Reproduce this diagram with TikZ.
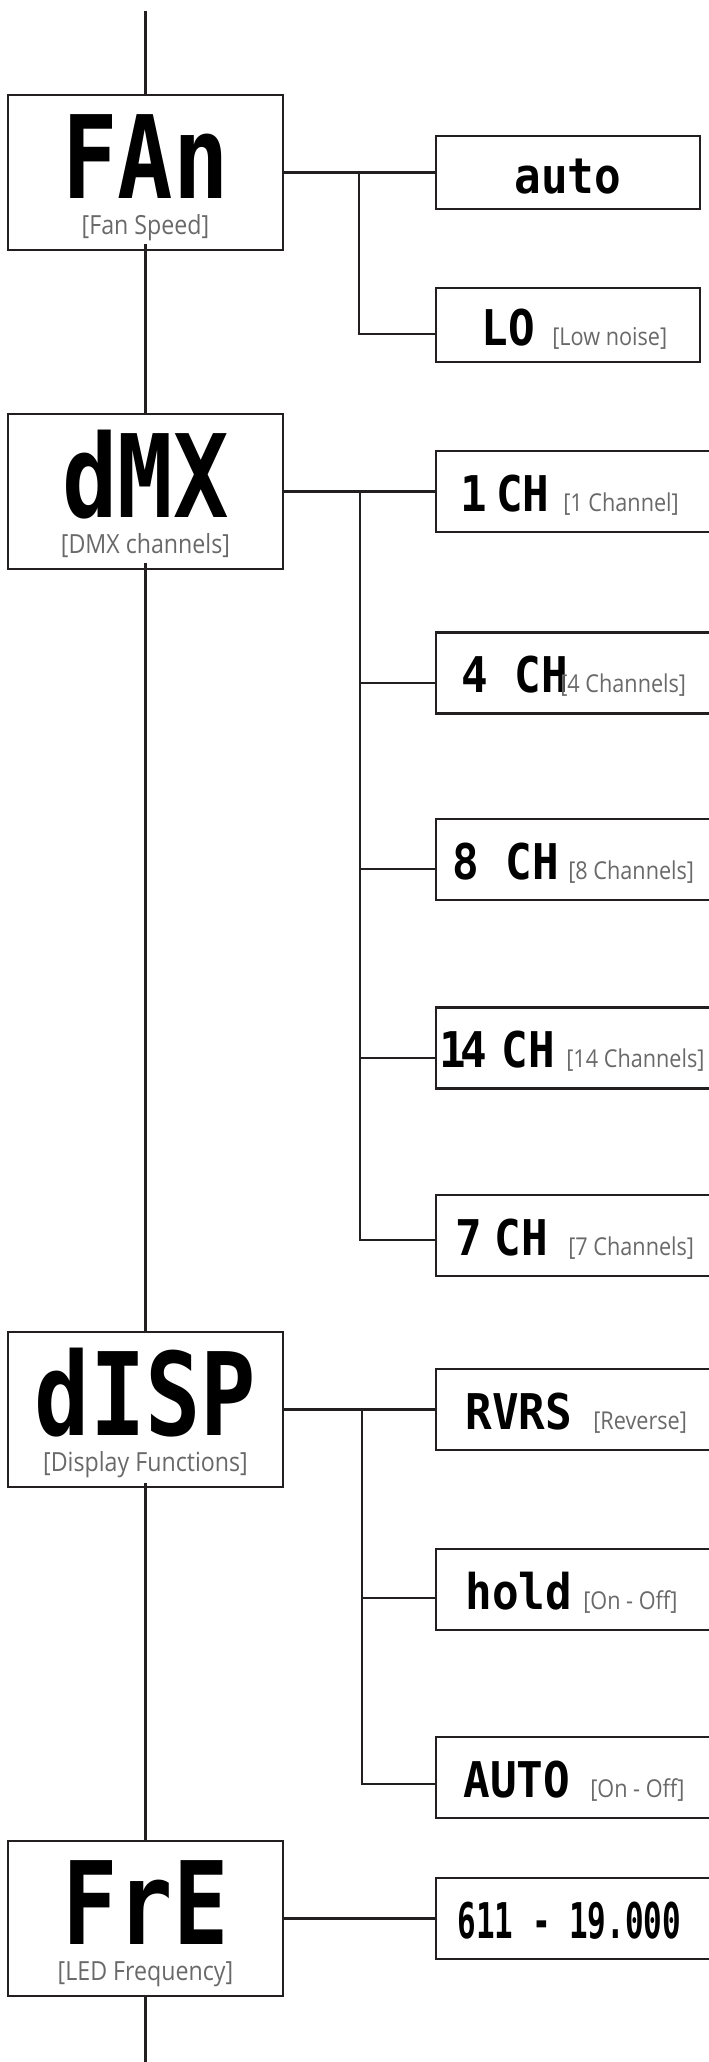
\documentclass[tikz,border=0pt]{standalone}
\usepackage{fontspec}
\usepackage{tikz}
\usetikzlibrary{positioning,calc}
\newfontfamily\segbig[FakeStretch=0.8]{DejaVu Sans Mono}
\newfontfamily\segsmall[FakeStretch=0.9]{DejaVu Sans Mono}
\newfontfamily\segnarrow[FakeStretch=0.63]{DejaVu Sans Mono}
\newfontfamily\lblfont[FakeStretch=0.88]{Open Sans}
\definecolor{lineCol}{RGB}{35,31,32}
\definecolor{lblCol}{RGB}{105,105,105}

\begin{document}
\begin{tikzpicture}[
  menubox/.style={draw=lineCol, line width=1.4pt, minimum width=5.5cm, minimum height=3.1cm, inner sep=0pt},
  optbox/.style={draw=lineCol, line width=1.4pt, minimum width=5.68cm, minimum height=1.62cm, inner sep=0pt},
  bigseg/.style={font=\segbig\bfseries\fontsize{65.5}{66}\selectfont, inner sep=0pt, text depth=0pt, anchor=base},
  smallseg/.style={font=\segsmall\bfseries\fontsize{28}{28}\selectfont, inner sep=0pt, anchor=base west},
  menulbl/.style={font=\lblfont\fontsize{15}{15}\selectfont, text=lblCol, inner sep=0pt, anchor=base},
  optlbl/.style={font=\lblfont\fontsize{14}{14}\selectfont, text=lblCol, inner sep=0pt, anchor=base west},
  link/.style={draw=lineCol, line width=1.3pt},
]
\useasboundingbox (0,0) rectangle (14.18,-41.24);
\coordinate (top) at (2.91,-0.22);
\coordinate (bottom) at (2.91,-41.3);
% FAN
\node[menubox] (fan) at (2.91,-3.45) {};
\node[bigseg] (fanseg) at (2.91,-3.96) {FAn};
\node[menulbl] (fanlbl) at (2.91,-4.68) {[Fan Speed]};
\node[optbox, minimum width=5.28cm, minimum height=1.46cm] (auto) at (11.36,-3.45) {};
\node[smallseg, anchor=base] (autoseg) at (11.36,-3.86) {auto};
\node[optbox, minimum width=5.28cm, minimum height=1.48cm] (lo) at (11.36,-6.5) {};
\node[smallseg] (loseg) at (9.62,-6.9) {LO};
\node[optlbl] (lolbl) at (11.04,-6.9) {[Low noise]};
% DMX
\node[menubox] (dmx) at (2.91,-9.83) {};
\node[bigseg] (dmxseg) at (2.91,-10.34) {dMX};
\node[menulbl] (dmxlbl) at (2.91,-11.06) {[DMX channels]};
\node[optbox] (ch1) at (11.56,-9.83) {};
\node[smallseg] (ch1seg) at (9.2,-10.22) {1\kern-10pt{} CH};
\node[optlbl] (ch1lbl) at (11.26,-10.22) {[1 Channel]};
\node[optbox] (ch4) at (11.56,-13.46) {};
\node[smallseg] (ch4seg) at (9.22,-13.85) {4 CH};
\node[optlbl] (ch4lbl) at (11.2,-13.85) {[4 Channels]};
\node[optbox] (ch8) at (11.56,-17.19) {};
\node[smallseg] (ch8seg) at (9.04,-17.58) {8 CH};
\node[optlbl] (ch8lbl) at (11.36,-17.58) {[8 Channels]};
\node[optbox] (ch14) at (11.56,-20.96) {};
\node[smallseg] (ch14seg) at (8.78,-21.35) {1\kern-3pt 4\kern-7pt{} CH};
\node[optlbl] (ch14lbl) at (11.32,-21.35) {[14 Channels]};
\node[optbox] (ch7) at (11.56,-24.71) {};
\node[smallseg] (ch7seg) at (9.1,-25.1) {7\kern-8pt{} CH};
\node[optlbl] (ch7lbl) at (11.36,-25.1) {[7 Channels]};
% DISP
\node[menubox] (disp) at (2.91,-28.19) {};
\node[bigseg] (dispseg) at (2.91,-28.7) {dISP};
\node[menulbl] (displbl) at (2.91,-29.42) {[Display Functions]};
\node[optbox] (rvrs) at (11.56,-28.19) {};
\node[smallseg] (rvrsseg) at (9.3,-28.58) {RVRS};
\node[optlbl] (rvrslbl) at (11.86,-28.58) {[Reverse]};
\node[optbox] (hold) at (11.56,-31.79) {};
\node[smallseg] (holdseg) at (9.3,-32.18) {hold};
\node[optlbl] (holdlbl) at (11.66,-32.18) {[On - Off]};
\node[optbox] (autoon) at (11.56,-35.55) {};
\node[smallseg] (autoonseg) at (9.26,-35.94) {AUTO};
\node[optlbl] (autoonlbl) at (11.8,-35.94) {[On - Off]};
% FRE
\node[menubox] (fre) at (2.91,-38.37) {};
\node[bigseg] (freseg) at (2.91,-38.88) {FrE};
\node[menulbl] (frelbl) at (2.91,-39.6) {[LED Frequency]};
\node[optbox] (freq) at (11.56,-38.37) {};
\node[smallseg, font=\segnarrow\bfseries\fontsize{28}{28}\selectfont] (freqseg) at (9.14,-38.76) {611 - 19.000};
% main line
\draw[link] (top) -- (fan.north);
\draw[link] ([yshift=0.14cm]fan.south) -- (dmx.north);
\draw[link] ([yshift=0.14cm]dmx.south) -- (disp.north);
\draw[link] ([yshift=0.1cm]disp.south) -- (fre.north);
\draw[link] (fre.south) -- (bottom);
% branches
\draw[link] (fan.east) -- (auto.west);
\coordinate (fanbr) at (7.18,-3.45);
\draw[link] (fanbr) |- ([yshift=-0.18cm]lo.west);
\draw[link] (dmx.east) -- (ch1.west);
\coordinate (dmxbr) at (7.2,-9.83);
\foreach \opt/\dy in {ch4/0.2, ch8/0.19, ch14/0.2, ch7/0.09}
  \draw[link] (dmxbr) |- ([yshift=-\dy cm]\opt.west);
\draw[link] (disp.east) -- (rvrs.west);
\coordinate (dispbr) at (7.24,-28.19);
\foreach \opt/\dy in {hold/0.17, autoon/0.13}
  \draw[link] (dispbr) |- ([yshift=-\dy cm]\opt.west);
\draw[link] (fre.east) -- (freq.west);
\end{tikzpicture}
\end{document}
